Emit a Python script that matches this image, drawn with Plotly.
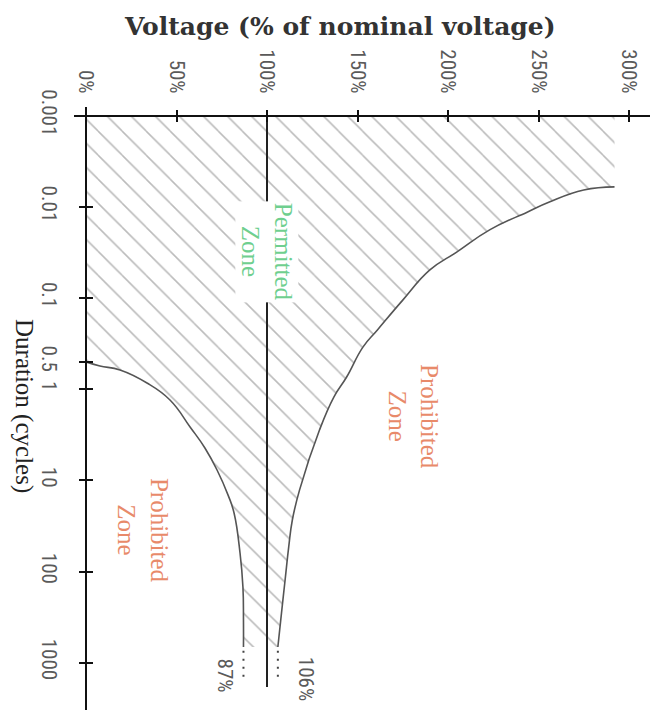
import numpy as np
import plotly.graph_objects as go

# ---- data (duration in cycles, voltage in % of nominal) ----
upper_dur = [0.006, 0.0065, 0.0088, 0.0113, 0.0178, 0.031, 0.049, 0.105, 0.223, 0.344,
             0.733, 1.21, 2.8, 12.7, 27.2, 53.8, 124, 286, 674]
upper_volt = [292, 275, 256, 244, 223, 205, 190, 175, 161, 153,
              144, 137, 129, 118, 114, 112, 110, 108, 106]

lower_dur = [0.5, 0.555, 0.614, 0.853, 1.31, 2.59, 4.41, 7.69, 14.5, 22.8, 62.7, 148, 341, 674]
lower_volt = [0, 7.7, 18.8, 33.7, 46.4, 57.5, 65.7, 72.4, 78.5, 81.8, 85.1, 86.7, 87, 87]

upper_start_dur = 0.001
upper_start_volt = 292

steady_dur = [740, 1550]
steady_upper = [106, 106]
steady_lower = [87, 87]

nominal_dur = [0.001, 1850]
nominal_volt = [100, 100]

volt_ticks = [0, 50, 100, 150, 200, 250, 300]
volt_ticktext = ["0%", "50%", "100%", "150%", "200%", "250%", "300%"]
dur_ticks = [0.001, 0.01, 0.1, 0.5, 1, 10, 100, 1000]
dur_ticktext = ["0.001", "0.01", "0.1", "0.5", "1", "10", "100", "1000"]

# ---- layout geometry (page body adds an 8px offset) ----
OFF = 8
W, H = 660 - OFF, 710 - OFF
L, R, T, B = 74 - OFF, 650 - OFF, 107 - OFF, 710 - OFF
PW, PH = R - L, B - T
X0PIX, XSCALE = 86 - OFF, 1.81         # px of 0 %, px per %
Y0PIX, YSCALE = 116 - OFF, 91.1        # px of 0.001 cycles, px per decade
xrange_ = [(L - X0PIX) / XSCALE, (R - X0PIX) / XSCALE]
yrange_ = [-3 + (B - Y0PIX) / YSCALE, -3 - (Y0PIX - T) / YSCALE]
xaxis_pos = (B - Y0PIX) / PH
yaxis_pos = (X0PIX - L) / PW

tick_font = dict(family="Liberation Sans Narrow, Roboto Condensed, DejaVu Sans Condensed, Liberation Sans",
                 size=21, color="#5a5a5a")
serif = "Liberation Serif, Times New Roman, serif"

fig = go.Figure()

# hatched permitted region
poly_x = [upper_start_volt] + upper_volt + lower_volt[::-1] + [0, upper_start_volt]
poly_y = [upper_start_dur] + upper_dur + lower_dur[::-1] + [upper_start_dur, upper_start_dur]
fig.add_trace(go.Scatter(
    x=poly_x, y=poly_y, mode="lines", line=dict(width=0), fill="toself",
    fillcolor="rgba(0,0,0,0)",
    fillpattern=dict(shape="\\", size=17, solidity=0.09, fgcolor="#777"),
    hoverinfo="skip", showlegend=False))

curve_line = dict(color="#555", width=1.6, shape="spline", smoothing=1.3)
fig.add_trace(go.Scatter(x=upper_volt, y=upper_dur, mode="lines", line=curve_line,
                         showlegend=False))
fig.add_trace(go.Scatter(x=lower_volt, y=lower_dur, mode="lines", line=curve_line,
                         showlegend=False))
dot_line = dict(color="#444", width=2, dash="2px,6px")
fig.add_trace(go.Scatter(x=steady_upper, y=steady_dur, mode="lines", line=dot_line, showlegend=False))
fig.add_trace(go.Scatter(x=steady_lower, y=steady_dur, mode="lines", line=dot_line, showlegend=False))
fig.add_trace(go.Scatter(x=nominal_volt, y=nominal_dur, mode="lines",
                         line=dict(color="#222", width=2), showlegend=False))
# helper trace for the overlaid (inside-tick) axes
fig.add_trace(go.Scatter(x=[0], y=[1], xaxis="x2", yaxis="y2", mode="markers",
                         marker=dict(opacity=0), hoverinfo="skip", showlegend=False))

axis_common = dict(showgrid=False, zeroline=False)
fig.update_layout(
    width=W, height=H, margin=dict(l=L, r=W - R, t=T, b=H - B, autoexpand=False),
    paper_bgcolor="white", plot_bgcolor="white", showlegend=False,
    xaxis=dict(range=xrange_, anchor="free", position=xaxis_pos, side="top",
               showline=True, linecolor="#111", linewidth=2,
               ticks="outside", ticklen=5, tickwidth=2, tickcolor="#111",
               tickvals=volt_ticks, ticktext=volt_ticktext, tickangle=90,
               tickfont=tick_font, ticklabelstandoff=9, **axis_common),
    yaxis=dict(type="log", range=yrange_, anchor="free", position=yaxis_pos,
               showline=True, linecolor="#111", linewidth=2,
               ticks="outside", ticklen=6, tickwidth=2, tickcolor="#111",
               tickvals=dur_ticks, ticktext=dur_ticktext, tickangle=90,
               tickfont=tick_font, ticklabelstandoff=12, **axis_common),
    xaxis2=dict(range=xrange_, overlaying="x", anchor="free", position=xaxis_pos, side="top",
                ticks="inside", ticklen=5, tickwidth=2, tickcolor="#111",
                tickvals=volt_ticks, showticklabels=False, showline=False, **axis_common),
    yaxis2=dict(type="log", range=yrange_, overlaying="y", anchor="free", position=yaxis_pos,
                ticks="inside", ticklen=6, tickwidth=2, tickcolor="#111",
                tickvals=dur_ticks, showticklabels=False, showline=False, **axis_common),
)

def xpix_to_paper(px):
    return (px - OFF - L) / PW

def ypix_to_paper(py):
    return (B - (py - OFF)) / PH

center = dict(xanchor="center", yanchor="middle", showarrow=False)
annotations = [
    dict(text="<b>Voltage (% of nominal voltage)</b>", xref="paper", yref="paper",
         x=xpix_to_paper(340), y=ypix_to_paper(27),
         font=dict(family="DejaVu Serif", size=25, color="#333"), **center),
    dict(text="Duration (cycles)", xref="paper", yref="paper",
         x=xpix_to_paper(24), y=ypix_to_paper(406), textangle=90,
         font=dict(family=serif, size=25, color="#222"), **center),
    dict(text="Permitted<br>Zone", x=100, y=np.log10(0.031), textangle=90,
         bgcolor="white", font=dict(family=serif, size=25, color="#6fcf8f"), **center),
    dict(text="Prohibited<br>Zone", x=181, y=np.log10(2.0), textangle=90,
         font=dict(family=serif, size=25, color="#e88a6a"), **center),
    dict(text="Prohibited<br>Zone", x=31.5, y=np.log10(35), textangle=90,
         font=dict(family=serif, size=25, color="#e88a6a"), **center),
    dict(text="87%", x=77, y=np.log10(1400), textangle=90, font=tick_font, **center),
    dict(text="106%", x=122, y=np.log10(1500), textangle=90, font=tick_font, **center),
]
fig.update_layout(annotations=annotations)

fig.write_html("out.html")
